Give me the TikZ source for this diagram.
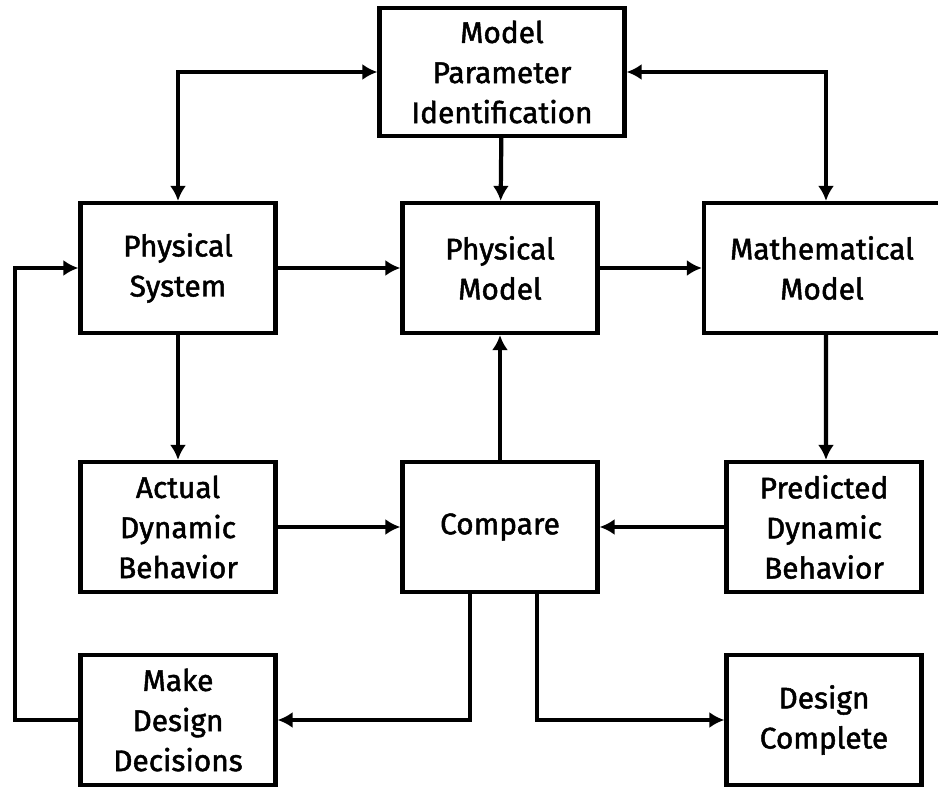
\documentclass[tikz,border=0pt]{standalone}
\usepackage{fontspec}
\setmainfont{Fira Sans}
\newfontfamily\boxfont{Fira Sans}[FakeBold=1.6]
\usetikzlibrary{arrows.meta}

\tikzstyle{block} = [draw, rectangle, line width=2.4pt, minimum width=3.9cm,
    minimum height=2.6cm, align=center, inner sep=2pt,
    font=\boxfont\fontsize{17}{22.8}\selectfont]
\tikzstyle{link} = [line width=2.4pt]

\begin{document}
\begin{tikzpicture}[x=.02cm, y=-.02cm, >={Latex[length=.3cm, width=.32cm]}]
  \useasboundingbox (0,0) rectangle (938,788);
  \node (mpi) [block, minimum width=4.9cm, minimum height=2.56cm] at (502,72)
    {Model\\Parameter\\Identification};
  \node (phys) [block] at (178,268) {Physical\\System};
  \node (pmod) [block] at (500,268) {Physical\\Model};
  \node (mmod) [block, minimum width=4.72cm] at (822,268) {Mathematical\\Model};
  \node (adb) [block] at (178,527) {Actual\\Dynamic\\Behavior};
  \node (cmp) [block] at (500,527) {Compare};
  \node (pdb) [block] at (824,527) {Predicted\\Dynamic\\Behavior};
  \node (mdd) [block] at (178,720) {Make\\Design\\Decisions};
  \node (done) [block] at (824,720) {Design\\Complete};
  \coordinate (back) at (15,720);

  \draw [link, <->] (phys.north) |- (mpi.west);
  \draw [link, <->] ([xshift=.08cm]mmod.north) |- (mpi.east);
  \draw [link, ->] (mpi) -- (pmod);
  \draw [link, ->] (phys) -- (pmod);
  \draw [link, ->] (pmod) -- (mmod);
  \draw [link, ->] (phys) -- (adb);
  \draw [link, ->] ([xshift=.08cm]mmod.south) -- ([xshift=.04cm]pdb.north);
  \draw [link, ->] (adb) -- (cmp);
  \draw [link, ->] (pdb) -- (cmp);
  \draw [link, ->] (cmp) -- (pmod);
  \draw [link, ->] ([xshift=-.6cm]cmp.south) |- (mdd.east);
  \draw [link, ->] ([xshift=.74cm]cmp.south) |- (done.west);
  \draw [link, ->] (mdd.west) -- (back) |- (phys.west);
\end{tikzpicture}
\end{document}
